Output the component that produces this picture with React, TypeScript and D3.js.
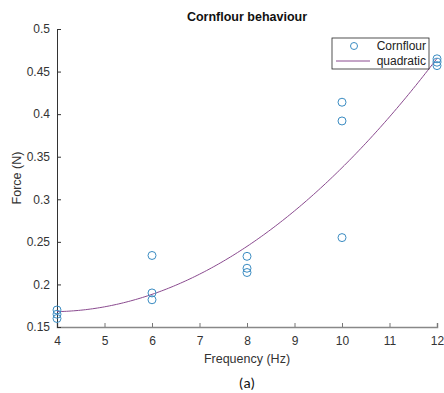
import { useEffect, useRef } from 'react';
import * as d3 from 'd3';

// measured points (frequency, force)
const freqs = [4, 4, 4, 6, 6, 6, 8, 8, 8, 10, 10, 10, 12, 12, 12];
const forces = [0.17, 0.165, 0.16, 0.234, 0.19, 0.182, 0.233, 0.219, 0.214, 0.414, 0.392, 0.255, 0.465, 0.461, 0.457];

const xTicks = [4, 5, 6, 7, 8, 9, 10, 11, 12];
const yTicks = [0.15, 0.2, 0.25, 0.3, 0.35, 0.4, 0.45, 0.5];

const markerColor = '#3b8cc2';
const fitColor = '#8a4a8f';

// least squares quadratic through the points
function quadFit(xs: number[], ys: number[]) {
  const n = xs.length;
  const s = [0, 0, 0, 0, 0];
  const t = [0, 0, 0];
  for (let i = 0; i < n; i++) {
    const x = xs[i];
    for (let k = 0; k < 5; k++) s[k] += Math.pow(x, k);
    for (let k = 0; k < 3; k++) t[k] += ys[i] * Math.pow(x, k);
  }
  const m = [
    [s[0], s[1], s[2], t[0]],
    [s[1], s[2], s[3], t[1]],
    [s[2], s[3], s[4], t[2]],
  ];
  for (let c = 0; c < 3; c++) {
    for (let r = c + 1; r < 3; r++) {
      const f = m[r][c] / m[c][c];
      for (let k = c; k < 4; k++) m[r][k] -= f * m[c][k];
    }
  }
  const b = [0, 0, 0];
  for (let r = 2; r >= 0; r--) {
    let v = m[r][3];
    for (let k = r + 1; k < 3; k++) v -= m[r][k] * b[k];
    b[r] = v / m[r][r];
  }
  return (x: number) => b[0] + b[1] * x + b[2] * x * x;
}

export default function App() {
  const svgRef = useRef<SVGSVGElement | null>(null);

  useEffect(() => {
    if (!svgRef.current) return;
    const svg = d3.select(svgRef.current);
    svg.selectAll('*').remove();

    const width = 444;
    const height = 393;
    const margin = { top: 29, right: 7, bottom: 66, left: 57 };
    const font = 'Liberation Sans, Arial, sans-serif';

    const x = d3.scaleLinear().domain([4, 12]).range([margin.left, width - margin.right]);
    const y = d3.scaleLinear().domain([0.15, 0.5]).range([height - margin.bottom, margin.top]);

    svg.append('rect').attr('width', width).attr('height', height).attr('fill', 'white');

    // axes (ticks inward, matlab style)
    const xAxis = svg.append('g')
      .attr('transform', `translate(0,${height - margin.bottom})`)
      .call(d3.axisBottom(x).tickValues(xTicks).tickSize(-4).tickPadding(8).tickFormat(d => String(d)));
    const yAxis = svg.append('g')
      .attr('transform', `translate(${margin.left},0)`)
      .call(d3.axisLeft(y).tickValues(yTicks).tickSize(-4).tickPadding(7).tickFormat(d => String(+d)));

    xAxis.select('.domain').attr('stroke', '#888').attr('stroke-width', 1.5);
    xAxis.selectAll('.tick line').attr('stroke', '#777');
    yAxis.select('.domain').attr('stroke', '#333').attr('stroke-width', 1);
    yAxis.selectAll('.tick line').attr('stroke', '#333');
    [xAxis, yAxis].forEach(ax => {
      ax.selectAll('.tick text').attr('fill', '#333').attr('font-size', 12).attr('font-family', font);
    });
    xAxis.selectAll('.tick text').attr('dy', '0.85em');

    // fitted curve
    const fit = quadFit(freqs, forces);
    const curve = d3.range(4, 12.001, 0.05).map(v => [v, fit(v)] as [number, number]);
    svg.append('path')
      .attr('d', d3.line<[number, number]>().x(d => x(d[0])).y(d => y(d[1]))(curve) || '')
      .attr('fill', 'none')
      .attr('stroke', fitColor)
      .attr('stroke-width', 1);

    // points
    svg.append('g')
      .selectAll('circle')
      .data(freqs.map((f, i) => ({ f, v: forces[i] })))
      .join('circle')
      .attr('cx', d => x(d.f))
      .attr('cy', d => y(d.v))
      .attr('r', 4)
      .attr('fill', 'none')
      .attr('stroke', markerColor)
      .attr('stroke-width', 1);

    // legend
    const lg = svg.append('g').attr('transform', 'translate(332,38)');
    lg.append('rect').attr('width', 97).attr('height', 31).attr('fill', 'white').attr('stroke', '#262626').attr('stroke-width', 0.8);
    lg.append('circle').attr('cx', 22).attr('cy', 8).attr('r', 3.5).attr('fill', 'none').attr('stroke', markerColor);
    lg.append('text').attr('x', 94).attr('y', 12).attr('text-anchor', 'end')
      .attr('font-size', 12).attr('font-family', font).attr('fill', '#222').text('Cornflour');
    lg.append('line').attr('x1', 4).attr('x2', 38).attr('y1', 23).attr('y2', 23).attr('stroke', fitColor);
    lg.append('text').attr('x', 94).attr('y', 27).attr('text-anchor', 'end')
      .attr('font-size', 12).attr('font-family', font).attr('fill', '#222').text('quadratic');

    // titles
    const cx = (margin.left + width - margin.right) / 2;
    svg.append('text').attr('x', cx).attr('y', 21).attr('text-anchor', 'middle')
      .attr('font-size', 12.5).attr('font-weight', 'bold').attr('font-family', font).attr('fill', '#111')
      .text('Cornflour behaviour');
    svg.append('text').attr('x', cx).attr('y', 363).attr('text-anchor', 'middle')
      .attr('font-size', 12.5).attr('font-family', font).attr('fill', '#333')
      .text('Frequency (Hz)');
    svg.append('text').attr('transform', `translate(21,${(margin.top + height - margin.bottom) / 2}) rotate(-90)`)
      .attr('text-anchor', 'middle')
      .attr('font-size', 12.5).attr('font-family', font).attr('fill', '#333')
      .text('Force (N)');
    svg.append('text').attr('x', cx).attr('y', 388).attr('text-anchor', 'middle')
      .attr('font-size', 15).attr('font-family', 'Carlito, Open Sans, sans-serif').attr('fill', '#111')
      .text('(a)');
  }, []);

  return (
    <svg ref={svgRef} width={444} height={393} style={{ position: 'absolute', left: 0, top: 0 }}></svg>
  );
}
